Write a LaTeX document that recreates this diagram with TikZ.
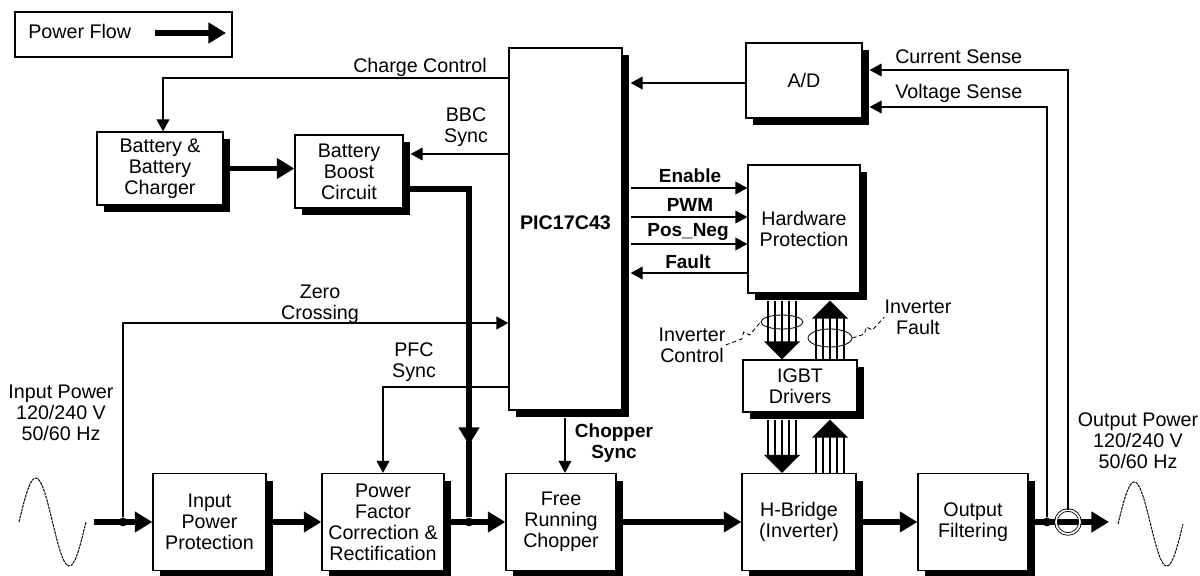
\documentclass[tikz,border=0pt]{standalone}
\usepackage{fontspec}
\setmainfont{Liberation Sans}
\usepackage{tikz}
\usetikzlibrary{arrows.meta,calc,shadows,shapes.geometric}
\tikzset{
  unitbox/.style={
    draw,
    line width=0.9pt,
    fill=white,
    align=center,
    inner sep=1pt,
    font=\fontsize{14}{15}\selectfont,
    drop shadow={shadow xshift=1.75mm, shadow yshift=-1.75mm, fill=black, opacity=1}
  },
  legendbox/.style={
    draw,
    line width=0.9pt,
    minimum width=54.25mm,
    minimum height=11.25mm
  },
  tag/.style={font=\fontsize{14}{15}\selectfont, align=center, inner sep=0pt},
  boldtag/.style={font=\bfseries\fontsize{13.5}{15}\selectfont, align=center, inner sep=0pt},
  signal/.style={draw, line width=0.9pt, -{Triangle[length=3mm,width=3.2mm]}},
  power/.style={draw, line width=1.3mm, -{Triangle[length=4.4mm,width=5mm]}},
  powerline/.style={draw, line width=1.3mm},
  busline/.style={draw, line width=0.35mm},
  bushead/.style={draw, line width=0.35mm, -{Triangle[length=4.5mm,width=9mm]}},
  junction/.style={circle, fill=black, inner sep=0pt, minimum size=2.2mm},
  bundle/.style={ellipse, draw, line width=0.6pt, inner sep=0pt},
  squiggle/.style={draw, line width=0.6pt, densely dashed},
  sinewave/.style={draw, line width=0.7pt, dash pattern=on 2pt off 0.6pt},
  every edge/.style={draw, line width=0.9pt, -{Triangle[length=3mm,width=3.2mm]}}
}
\begin{document}
\begin{tikzpicture}[x=0.25mm,y=-0.25mm]
  \useasboundingbox (0,0) rectangle (1200,576);

  \node[legendbox] (legend) at (123.5,34.5) {};
  \node[tag, anchor=west] (legtext) at (28,31) {Power Flow};
  \coordinate (legfrom) at (155,33);
  \coordinate (legto) at (226,33);

  \node[unitbox, minimum width=31.5mm, minimum height=18.25mm] (charger) at (160,168.5) {Battery \&\\Battery\\Charger};
  \node[unitbox, minimum width=27mm, minimum height=18.25mm] (boost) at (349,171.5) {Battery\\Boost\\Circuit};
  \node[unitbox, minimum width=28.25mm, minimum height=90.5mm, font=\bfseries\fontsize{14}{15}\selectfont] (pic) at (565.5,229) {\raisebox{3mm}{PIC17C43}};
  \node[unitbox, minimum width=29mm, minimum height=18.75mm] (adc) at (804,80.5) {A/D};
  \node[unitbox, minimum width=28mm, minimum height=32mm] (hwprot) at (804,229) {Hardware\\Protection};
  \node[unitbox, minimum width=28.5mm, minimum height=13mm] (igbt) at (800,386) {IGBT\\Drivers};

  \node[unitbox, minimum width=28.25mm, minimum height=24.25mm] (input) at (209.5,522) {Input\\Power\\Protection};
  \node[unitbox, minimum width=30.5mm, minimum height=24.25mm] (pfc) at (383,522) {Power\\Factor\\Correction \&\\Rectification};
  \node[unitbox, minimum width=27.5mm, minimum height=24.25mm] (chopper) at (561,522) {Free\\Running\\Chopper};
  \node[unitbox, minimum width=28.5mm, minimum height=24.25mm] (hbridge) at (799,522) {H-Bridge\\(Inverter)};
  \node[unitbox, minimum width=27.5mm, minimum height=24.25mm] (filter) at (973,522) {Output\\Filtering};

  \node[tag, anchor=east] (chglbl) at (487,67) {Charge Control};
  \node[tag] (bbclbl) at (466,127) {BBC\\Sync};
  \node[tag] (zerolbl) at (320,304) {Zero\\Crossing};
  \node[tag] (pfclbl) at (414,362) {PFC\\Sync};
  \node[boldtag] (choplbl) at (614,443) {Chopper\\Sync};
  \node[tag, anchor=west] (curlbl) at (895,57) {Current Sense};
  \node[tag, anchor=west] (vltlbl) at (895,93) {Voltage Sense};
  \node[tag] (inlbl) at (61,413) {Input Power\\120/240 V\\50/60 Hz};
  \node[tag] (outlbl) at (1138,441) {Output Power\\120/240 V\\50/60 Hz};
  \node[boldtag] (enlbl) at (690,176) {Enable};
  \node[boldtag] (pwmlbl) at (690,205) {PWM};
  \node[boldtag] (pnlbl) at (688,232) {Pos\_Neg};
  \node[boldtag] (faultlbl) at (688,262) {Fault};
  \node[tag] (ctllbl) at (692,345) {Inverter\\Control};
  \node[tag] (invfltlbl) at (918,317) {Inverter\\Fault};

  \node[junction] (jin) at (123,522) {};
  \node[junction] (jpfc) at (469,522) {};
  \node[junction] (jout) at (1047,522) {};
  \coordinate (srcin) at (94,522);
  \coordinate (outend) at (1109,522);
  \coordinate (boostdrop) at (469,445);
  \coordinate (ctlx) at (782,0);
  \coordinate (fltx) at (830,0);

  \path (legfrom) edge[power] (legto)
        (charger.east) edge[power] (charger.east -| boost.west)
        (srcin) edge[power] (input.west)
        (input.east) edge[power] (pfc.west)
        (pfc.east) edge[power] (chopper.west)
        (chopper.east) edge[power] (hbridge.west)
        (hbridge.east) edge[power] (filter.west)
        (filter.east) edge[power] (outend);
  \draw[power] (boost.east |- 0,189) -| (boostdrop);
  \draw[powerline] ($(boostdrop)+(0,-4)$) -- (jpfc);

  \node[circle, draw, double, line width=0.6pt, double distance=1.2pt, minimum size=6mm, inner sep=0pt] (ct) at (1068,522) {};

  \draw[signal] (pic.west |- 0,78) -| ($(charger.north)+(3,0)$);
  \draw[signal] (pic.west |- 0,154) -- ($(boost.east |- 0,154)+(7,0)$);
  \draw[signal] (jin) |- (pic.west |- 0,323);
  \draw[signal] (pic.west |- 0,387) -| (pfc.north);
  \draw[signal] ($(chopper.north |- pic.south)+(4,7)$) -- ($(chopper.north)+(4,0)$);
  \draw[signal] ($(adc.west)+(0,2.5)$) -- ($(pic.east |- adc.west)+(8,2.5)$);
  \draw[signal] (ct.north) |- ($(adc.east)+(7,-10.5)$);
  \draw[signal] (jout) |- ($(adc.east)+(7,26.5)$);

  \path ($(pic.east |- 0,188)+(8,0)$) edge (hwprot.west |- 0,188)
        ($(pic.east |- 0,217)+(8,0)$) edge (hwprot.west |- 0,217)
        ($(pic.east |- 0,244)+(8,0)$) edge (hwprot.west |- 0,244)
        (hwprot.west |- 0,273) edge ($(pic.east |- 0,273)+(8,0)$);

  \foreach \dx in {-14,-7,7,14} {
    \draw[busline, shorten >=4.3mm] ($(hwprot.south -| ctlx)+(\dx,7)$) -- ($(igbt.north -| ctlx)+(\dx,0)$);
    \draw[busline, shorten >=4.3mm] ($(igbt.south -| ctlx)+(\dx,7)$) -- ($(hbridge.north -| ctlx)+(\dx,0)$);
    \draw[busline, shorten >=4.3mm] ($(igbt.north -| fltx)+(\dx,0)$) -- ($(hwprot.south -| fltx)+(\dx,7)$);
    \draw[busline, shorten >=4.3mm] ($(hbridge.north -| fltx)+(\dx,0)$) -- ($(igbt.south -| fltx)+(\dx,7)$);
  }
  \draw[bushead] ($(hwprot.south -| ctlx)+(0,7)$) -- (igbt.north -| ctlx);
  \draw[bushead] ($(igbt.south -| ctlx)+(0,7)$) -- (hbridge.north -| ctlx);
  \draw[bushead] (igbt.north -| fltx) -- ($(hwprot.south -| fltx)+(0,7)$);
  \draw[bushead] (hbridge.north -| fltx) -- ($(igbt.south -| fltx)+(0,7)$);

  \node[bundle, minimum width=10.5mm, minimum height=3.5mm] (ctlring) at (782,322) {};
  \node[bundle, minimum width=11mm, minimum height=4.5mm] (fltring) at (830,338) {};
  \draw[squiggle] (ctllbl.east) -- ++(16,-6) -- ++(2,-7) -- ++(6,3) -- (ctlring.west);
  \draw[squiggle] (fltring.east) -- ++(12,-4) -- ++(2,-7) -- ++(6,3) -- (invfltlbl.west);

  \draw[sinewave] plot[domain=0:1, samples=60, smooth] ({19+67*\x},{522-44*sin(360*\x)});
  \draw[sinewave] plot[domain=0:1, samples=60, smooth] ({1118+65*\x},{524-42*sin(360*\x)});
\end{tikzpicture}
\end{document}
